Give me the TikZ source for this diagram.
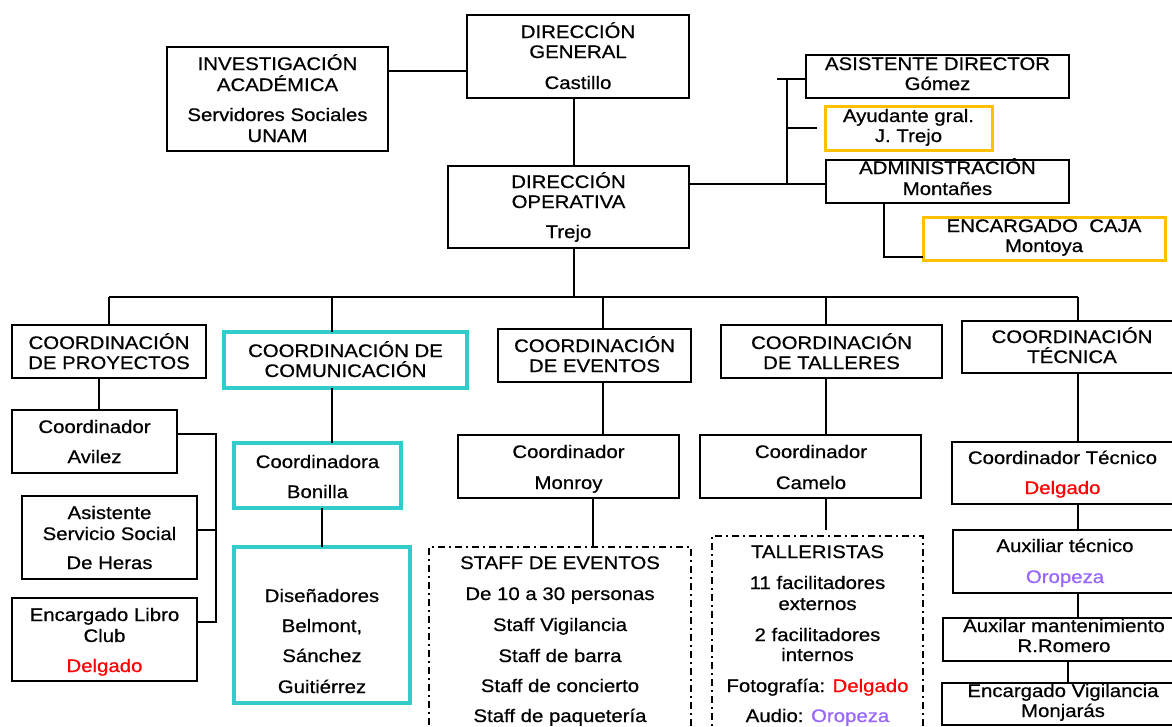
\documentclass[tikz,border=0pt]{standalone}
\usepackage{fontspec}
\setmainfont{Liberation Sans}[FakeStretch=1.12,FakeBold=0.6]
\definecolor{cyanb}{RGB}{51,204,204}
\definecolor{goldb}{RGB}{255,192,0}
\definecolor{redt}{RGB}{255,0,0}
\definecolor{purt}{RGB}{153,102,255}
\newcommand\placebox[6]{\node[#2, minimum width={#5-(#3)}, minimum height={#6-(#4)}] (#1) at ({(#3+#5)/2},{(#4+#6)/2}) {};}
\newcommand\tline[4]{\node[tx] (#1) at (#2,#3) {#4};}
\begin{document}
\begin{tikzpicture}[x=1pt,y=-1pt,
  bx/.style={draw=black, line width=2pt, inner sep=0pt, outer sep=0pt, rectangle},
  cyanbox/.style={draw=cyanb, line width=3.5pt, inner sep=0pt, outer sep=0pt, rectangle},
  goldbox/.style={draw=goldb, line width=3pt, inner sep=0pt, outer sep=0pt, rectangle},
  dbox/.style={draw=black, line width=1.6pt, dash pattern=on 7pt off 4pt on 2pt off 4pt, inner sep=0pt, outer sep=0pt, rectangle},
  ln/.style={draw=black, line width=1.5pt},
  tx/.style={anchor=base, inner sep=0pt, outer sep=0pt, font=\fontsize{18.2}{22}\selectfont}]
\useasboundingbox (0,0) rectangle (1172,726);
\fill[white] (0,0) rectangle (1172,726);

% boxes
\placebox{inv}{bx}{167}{47}{388}{151}
\placebox{dg}{bx}{467}{15}{689}{98}
\placebox{do}{bx}{448}{166}{689}{248}
\placebox{asis}{bx}{806}{55}{1069}{98}
\placebox{ayu}{goldbox}{825}{106}{992}{150}
\placebox{adm}{bx}{826}{160}{1069}{203}
\placebox{caja}{goldbox}{923}{217}{1165}{260}
\placebox{proy}{bx}{12}{325}{206}{378}
\placebox{com}{cyanbox}{224}{332}{467}{388}
\placebox{eve}{bx}{498}{329}{691}{382}
\placebox{tal}{bx}{721}{325}{942}{378}
\placebox{tec}{bx}{962}{321}{1185}{373}
\placebox{avi}{bx}{12}{410}{177}{473}
\placebox{asiss}{bx}{22}{496}{197}{579}
\placebox{libro}{bx}{12}{598}{197}{681}
\placebox{bon}{cyanbox}{234}{443}{401}{508}
\placebox{dis}{cyanbox}{234}{547}{410}{703}
\placebox{mon}{bx}{458}{435}{679}{498}
\placebox{staff}{dbox}{429}{547}{691}{770}
\placebox{cam}{bx}{700}{435}{921}{498}
\placebox{tlr}{dbox}{712}{536}{923}{770}
\placebox{ctec}{bx}{952}{442}{1185}{504}
\placebox{aux}{bx}{953}{530}{1185}{593}
\placebox{mant}{bx}{943}{618}{1185}{661}
\placebox{vig}{bx}{942}{683}{1185}{725}

% junction coordinates
\coordinate (jInv) at (0,71);
\coordinate (xMain) at (574,0);
\coordinate (busL) at (109,297);
\coordinate (busR) at (1078,297);
\coordinate (xCom) at (332,297);
\coordinate (xEve) at (603,297);
\coordinate (xTal) at (826,297);
\coordinate (xProy) at (99,0);
\coordinate (xBr) at (216,0);
\coordinate (yAvi) at (0,434);
\coordinate (yAsi) at (0,530);
\coordinate (yLib) at (0,622);
\coordinate (xDis) at (322,0);
\coordinate (xSt) at (593,0);
\coordinate (tEnd) at (826,530);
\coordinate (xVig) at (1068,0);
\coordinate (yAdm) at (0,184);
\coordinate (xRail) at (787,0);
\coordinate (yAsis) at (0,79);
\coordinate (aStub) at (777,79);
\coordinate (ayStub) at (817,128);
\coordinate (xCaja) at (884,0);
\coordinate (yCaja) at (0,257);

% connectors
\draw[ln] (inv.east |- jInv) -- (dg.west |- jInv);
\draw[ln] (dg.south -| xMain) -- (do.north -| xMain);
\draw[ln] (do.south -| xMain) -- (xMain |- busL);
\draw[ln] (busL) -- (busR);
\draw[ln] (busL) -- (proy.north -| busL);
\draw[ln] (xCom) -- (com.north -| xCom);
\draw[ln] (xEve) -- (eve.north -| xEve);
\draw[ln] (xTal) -- (tal.north -| xTal);
\draw[ln] (busR) -- (tec.north -| busR);
\draw[ln] (proy.south -| xProy) -- (avi.north -| xProy);
\draw[ln] (avi.east |- yAvi) -| (xBr |- yLib) -- (libro.east |- yLib);
\draw[ln] (asiss.east |- yAsi) -- (xBr |- yAsi);
\draw[ln] (com.south -| xCom) -- (bon.north -| xCom);
\draw[ln] (bon.south -| xDis) -- (dis.north -| xDis);
\draw[ln] (eve.south -| xEve) -- (mon.north -| xEve);
\draw[ln] (mon.south -| xSt) -- (staff.north -| xSt);
\draw[ln] (tal.south -| xTal) -- (cam.north -| xTal);
\draw[ln] (cam.south -| tEnd) -- (tEnd);
\draw[ln] (tec.south -| busR) -- (ctec.north -| busR);
\draw[ln] (ctec.south -| busR) -- (aux.north -| busR);
\draw[ln] (aux.south -| busR) -- (mant.north -| busR);
\draw[ln] (mant.south -| xVig) -- (vig.north -| xVig);
\draw[ln] (do.east |- yAdm) -- (adm.west |- yAdm);
\draw[ln] (xRail |- yAdm) -- (xRail |- yAsis);
\draw[ln] (aStub) -- (asis.west |- yAsis);
\draw[ln] (xRail |- ayStub) -- (ayStub);
\draw[ln] (adm.south -| xCaja) |- (caja.west |- yCaja);

% texts
\tline{invA}{277.5}{70}{INVESTIGACIÓN}
\tline{invB}{277.5}{91}{ACADÉMICA}
\tline{invC}{277.5}{121}{Servidores Sociales}
\tline{invD}{277.5}{142}{UNAM}
\tline{dgA}{578}{38}{DIRECCIÓN}
\tline{dgB}{578}{58}{GENERAL}
\tline{dgC}{578}{89}{Castillo}
\tline{doA}{568.5}{188}{DIRECCIÓN}
\tline{doB}{568.5}{208}{OPERATIVA}
\tline{doC}{568.5}{238}{Trejo}
\tline{asisA}{937.5}{70}{ASISTENTE DIRECTOR}
\tline{asisB}{937.5}{90}{Gómez}
\tline{ayuA}{908.5}{122}{Ayudante gral.}
\tline{ayuB}{908.5}{142}{J. Trejo}
\tline{admA}{947.5}{174}{ADMINISTRACIÓN}
\tline{admB}{947.5}{195}{Montañes}
\tline{cajaA}{1044}{232}{ENCARGADO\ \ CAJA}
\tline{cajaB}{1044}{252}{Montoya}
\tline{proyA}{109}{349}{COORDINACIÓN}
\tline{proyB}{109}{369}{DE PROYECTOS}
\tline{comA}{345.5}{357}{COORDINACIÓN DE}
\tline{comB}{345.5}{377}{COMUNICACIÓN}
\tline{eveA}{594.5}{352}{COORDINACIÓN}
\tline{eveB}{594.5}{372}{DE EVENTOS}
\tline{talA}{831.5}{349}{COORDINACIÓN}
\tline{talB}{831.5}{369}{DE TALLERES}
\tline{tecA}{1072}{343}{COORDINACIÓN}
\tline{tecB}{1072}{363}{TÉCNICA}
\tline{aviA}{94.5}{433}{Coordinador}
\tline{aviB}{94.5}{463}{Avilez}
\tline{asisA2}{109.5}{519}{Asistente}
\tline{asisB2}{109.5}{540}{Servicio Social}
\tline{asisC2}{109.5}{569}{De Heras}
\tline{libA}{104.5}{621}{Encargado Libro}
\tline{libB}{104.5}{642}{Club}
\tline{libC}{104.5}{672}{\color{redt}Delgado}
\tline{bonA}{317.5}{468}{Coordinadora}
\tline{bonB}{317.5}{498}{Bonilla}
\tline{disA}{322}{602}{Diseñadores}
\tline{disB}{322}{632}{Belmont,}
\tline{disC}{322}{662}{Sánchez}
\tline{disD}{322}{693}{Guitiérrez}
\tline{monA}{568.5}{458}{Coordinador}
\tline{monB}{568.5}{489}{Monroy}
\tline{stA}{560}{569}{STAFF DE EVENTOS}
\tline{stB}{560}{600}{De 10 a 30 personas}
\tline{stC}{560}{631}{Staff Vigilancia}
\tline{stD}{560}{662}{Staff de barra}
\tline{stE}{560}{692}{Staff de concierto}
\tline{stF}{560}{722}{Staff de paquetería}
\tline{camA}{811}{458}{Coordinador}
\tline{camB}{811}{489}{Camelo}
\tline{tlA}{817.5}{558}{TALLERISTAS}
\tline{tlB}{817.5}{589}{11 facilitadores}
\tline{tlC}{817.5}{610}{externos}
\tline{tlD}{817.5}{641}{2 facilitadores}
\tline{tlE}{817.5}{661}{internos}
\tline{tlF}{817.5}{692}{Fotografía: \textcolor{redt}{Delgado}}
\tline{tlG}{817.5}{722}{Audio: \textcolor{purt}{Oropeza}}
\tline{ctA}{1062.5}{464}{Coordinador Técnico}
\tline{ctB}{1062.5}{494}{\color{redt}Delgado}
\tline{auxA}{1065}{552}{Auxiliar técnico}
\tline{auxB}{1065}{583}{\color{purt}Oropeza}
\tline{mtA}{1064}{632}{Auxilar mantenimiento}
\tline{mtB}{1064}{652}{R.Romero}
\tline{vgA}{1063}{697}{Encargado Vigilancia}
\tline{vgB}{1063}{717}{Monjarás}
\end{tikzpicture}
\end{document}
